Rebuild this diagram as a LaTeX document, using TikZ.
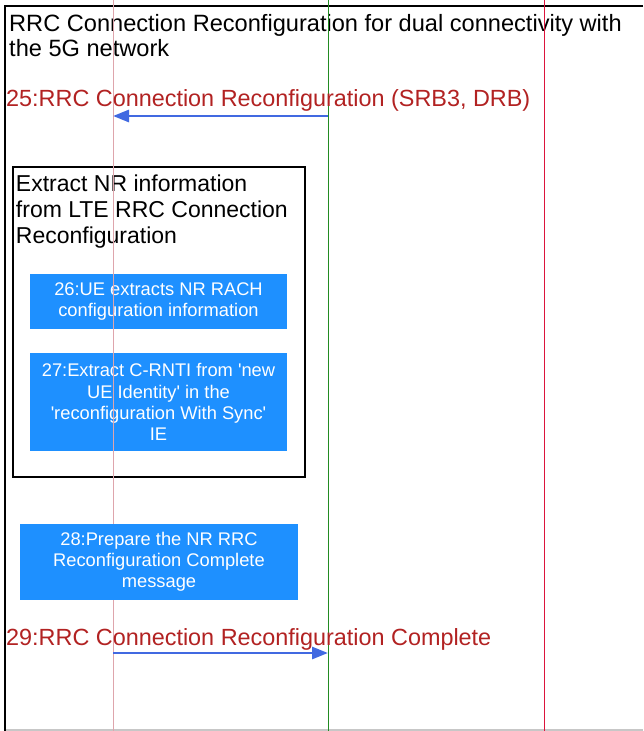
\documentclass[tikz,border=0pt]{standalone}
\usepackage{fontspec}
\setmainfont{Liberation Sans}[Ligatures=TeXOff]
\usetikzlibrary{positioning,arrows.meta}
\definecolor{msgred}{RGB}{178,34,34}
\definecolor{msgblue}{RGB}{65,105,225}
\definecolor{stepblue}{RGB}{30,144,255}
\definecolor{uepink}{RGB}{222,165,172}
\definecolor{enbgreen}{RGB}{34,139,34}
\definecolor{gnbred}{RGB}{220,20,60}
\newcommand{\lifeline}[3]% name, x, colour
{\draw[#3, line width=1pt] (#2,0) coordinate (#1) -- (#2,731);
}
\tikzset{
	msgtext/.style={anchor=base west, inner sep=0, text=msgred, font=\fontsize{23.4}{25}\selectfont},
	msgarrow/.style={msgblue, line width=2.8pt, -{Triangle[length=16pt, width=12pt]}},
	stepbox/.style={fill=stepblue, text=white, align=center, inner sep=0, font=\fontsize{18.3}{21.2}\selectfont},
	groupbox/.style={draw, line width=2.5pt, inner sep=0}
}

\begin{document}
\begin{tikzpicture}[x=1pt, y=-1pt]
	\useasboundingbox (0,0) rectangle (643,731);
	\fill[white] (0,0) rectangle (643,731);
	% frame
	\draw[black!22, line width=1.5pt] (5,730) -- (643,730);
	\draw[line width=2.6pt] (643,6) -- (5,6) -- (5,731);
	\node[anchor=north west, inner sep=0, align=left, font=\fontsize{23.6}{25}\selectfont] (title) at (9,14)
		{RRC Connection Reconfiguration for dual connectivity with\\the 5G network};
	% extract group
	\node[groupbox, minimum width=292, minimum height=310] (extract) at (159,322) {};
	\node[anchor=north west, inner sep=0, align=left, font=\fontsize{23}{26}\selectfont] (extracthd)
		at ([shift={(4,9)}]extract.north west)
		{Extract NR information\\from LTE RRC Connection\\Reconfiguration};
	\node[stepbox, minimum width=257, minimum height=55] (s26) at (158.5,301.5)
		{26:UE extracts NR RACH\\configuration information};%26
	\node[stepbox, minimum width=257, minimum height=98] (s27) at (158.5,402)
		{27:Extract C-RNTI from 'new\\UE Identity' in the\\'reconfiguration With Sync'\\IE};%27
	% lifelines
	\lifeline{ue}{113}{uepink}
	\lifeline{enb}{328}{enbgreen}
	\lifeline{gnb}{544}{gnbred}
	\node[stepbox, minimum width=278, minimum height=76] (s28) at (159,562)
		{28:Prepare the NR RRC\\Reconfiguration Complete\\message};%28
	% messages
	\coordinate (m25a) at (328,116);
	\coordinate (m25b) at (113,116);
	\coordinate (m29a) at (113,653);
	\coordinate (m29b) at (328,653);
	\node[msgtext] (m25) at (6,106){25:RRC Connection Reconfiguration (SRB3, DRB)};%25
	\draw[msgarrow] (m25a) -- (m25b);
	\node[msgtext] (m29) at (6,645){29:RRC Connection Reconfiguration Complete};%29
	\draw[msgarrow] (m29a) -- (m29b);
\end{tikzpicture}
\end{document}
